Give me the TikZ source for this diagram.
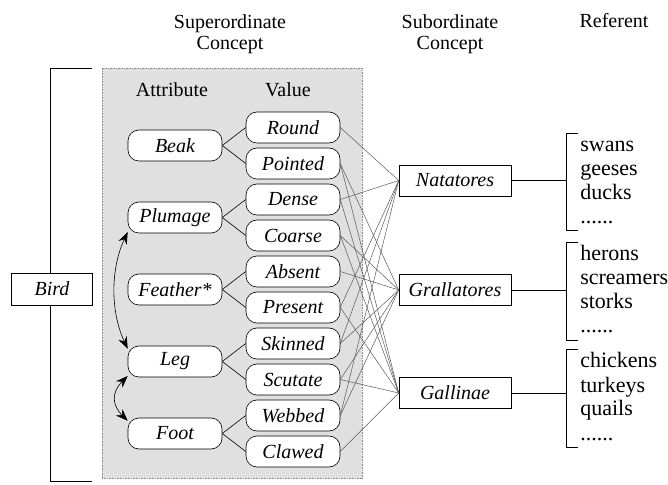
\documentclass[tikz,border=0pt]{standalone}
\usepackage{fontspec}
\setmainfont{Liberation Serif}
\usetikzlibrary{arrows.meta}
\newcommand\refdots{......}

\begin{document}
\begin{tikzpicture}[x=1pt, y=1pt, line width=0.6pt,
	attr/.style={draw, fill=white, rounded corners=11pt, minimum width=94pt,
		minimum height=31pt, inner sep=0pt, font=\fontsize{20}{24}\selectfont\itshape},
	sub/.style={draw, fill=white, minimum width=112pt, minimum height=31pt,
		inner sep=0pt, font=\fontsize{20}{24}\selectfont\itshape},
	head/.style={align=center, inner sep=0pt, font=\fontsize{20}{21}\selectfont},
	refs/.style={anchor=base west, inner sep=0pt, font=\fontsize{22}{24}\selectfont},
	link/.style={draw=black!65, line width=0.5pt},
	twotip/.style={{Stealth[length=12pt,width=9pt]}-{Stealth[length=12pt,width=9pt]}}
	]
	\useasboundingbox (0,0) rectangle (668,484);
	\def\xattr{175}
	\def\xval{293}
	\def\xsub{455}
	\def\xbr{566}

	% headings
	\node[head] (hsup) at (230,450) {Superordinate\\Concept};
	\node[head] (hsub) at (450,450) {Subordinate\\Concept};
	\node[head, anchor=base] (href) at (614,456) {Referent};

	% shaded area
	\filldraw[fill=black!12, draw=black!45, densely dotted] (102,6) rectangle (362,416);
	\node[head, anchor=base] (hattr) at (172,387) {Attribute};
	\node[head, anchor=base] (hval) at (288,387) {Value};

	% bird
	\draw (92,416) -- (50,416) -- (50,3) -- (92,3);
	\node[sub, minimum width=81pt, minimum height=32pt] (bird) at (52,195) {Bird};

	\foreach \a/\name [count=\k from 0] in {beak/Beak, plumage/Plumage,
		feather/Feather*, leg/Leg, foot/Foot}{%
		\node[attr] (\a) at (\xattr, 338.5-72*\k) {\name};
	}
	\foreach \v/\name [count=\i from 0] in {round/Round, pointed/Pointed,
		dense/Dense, coarse/Coarse, absent/Absent, present/Present,
		skinned/Skinned, scutate/Scutate, webbed/Webbed, clawed/Clawed}{%
		\node[attr] (\v) at (\xval, 356.5-36*\i) {\name};
	}
	\foreach \a/\v in {beak/round, beak/pointed, plumage/dense, plumage/coarse,
		feather/absent, feather/present, leg/skinned, leg/scutate,
		foot/webbed, foot/clawed}{%
		\draw (\a.east) -- (\v.west);
	}
	\draw[twotip] (plumage.197) to[out=245, in=115, looseness=0.9] (leg.165);
	\draw[twotip] (leg.197) to[out=225, in=135, looseness=1.3] (foot.165);

	% subordinate concepts
	\node[sub] (nat) at (\xsub,303.5) {Natatores};
	\node[sub] (gra) at (\xsub,194) {Grallatores};
	\node[sub] (gal) at (\xsub,91) {Gallinae};
	\foreach \v/\s in {round/nat, pointed/gra, pointed/gal, dense/nat, dense/gal,
		coarse/gra, coarse/gal, absent/gra, present/nat, present/gal,
		skinned/nat, skinned/gra, scutate/gra, scutate/gal,
		webbed/nat, webbed/gra, clawed/gal}{%
		\draw[link] (\v.east) -- (\s.west);
	}

	% referents
	\foreach \s/\ytop/\ybot/\ya/\words in {nat/351/254/332/{swans,geeses,ducks,\refdots},
		gra/242/144/223/{herons,screamers,storks,\refdots},
		gal/135/37/116/{chickens,turkeys,quails,\refdots}}{%
		\coordinate (br-\s) at (\xbr, 0 |- \s.east);
		\draw (\xbr+12,\ytop) -- (\xbr,\ytop) -- (\xbr,\ybot) -- (\xbr+12,\ybot);
		\draw (\s.east) -- (br-\s);
		\foreach \w [count=\j from 0] in \words {%
			\node[refs] (ref-\s-\j) at (580, \ya-24*\j) {\w};
		}
	}
\end{tikzpicture}
\end{document}
